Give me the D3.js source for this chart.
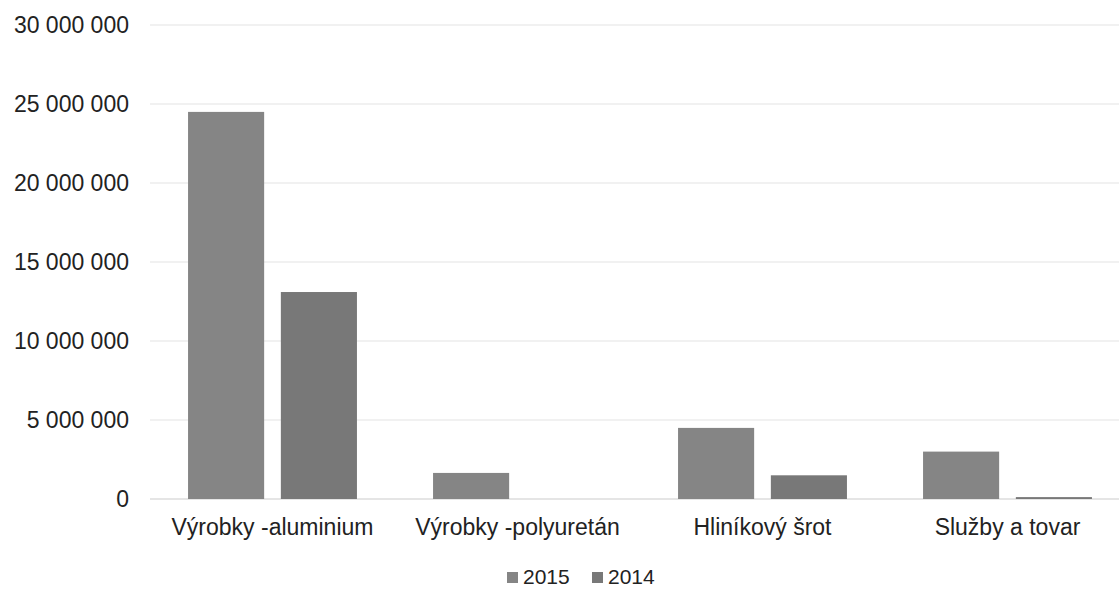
<!DOCTYPE html>
<html>
<head>
<meta charset="utf-8">
<script src="https://cdn.jsdelivr.net/npm/d3@7"></script>
<style>
  body { margin: 0; background: #fff; }
  svg { display: block; font-family: "Liberation Sans", Arial, sans-serif; }
</style>
</head>
<body>
<svg id="chart" width="1119" height="589"></svg>
<script>
const categories = ['Výrobky -aluminium', 'Výrobky -polyuretán', 'Hliníkový šrot', 'Služby a tovar'];
const years = ['2015', '2014'];
const values2015 = [24500000, 1650000, 4500000, 3000000];
const values2014 = [13100000, 0, 1500000, 120000];
const yTicks = [0, 5000000, 10000000, 15000000, 20000000, 25000000, 30000000];

const colors = {'2015': '#858585', '2014': '#787878'};

const svg = d3.select('#chart');
const margin = {left: 150, right: -11, top: 25, bottom: 90};
const width = 1119, height = 589;

const x = d3.scaleBand()
    .domain(categories)
    .range([margin.left, width - margin.right])
    .paddingInner(0)
    .paddingOuter(0);

const xInner = d3.scaleBand()
    .domain(years)
    .range([0, x.bandwidth()])
    .paddingInner(0.18)
    .paddingOuter(0.41);

const y = d3.scaleLinear()
    .domain([0, 30000000])
    .range([height - margin.bottom, margin.top]);

const fmt = v => d3.format(',')(v).replace(/,/g, ' ');

// grid
svg.append('g')
    .selectAll('line')
    .data(yTicks)
    .join('line')
    .attr('x1', margin.left)
    .attr('x2', width)
    .attr('y1', d => y(d))
    .attr('y2', d => y(d))
    .attr('stroke', d => d === 0 ? '#dcdcdc' : '#ececec')
    .attr('stroke-width', 1.5);

// y labels
svg.append('g')
    .selectAll('text')
    .data(yTicks)
    .join('text')
    .attr('x', 129)
    .attr('y', d => y(d))
    .attr('dy', '0.35em')
    .attr('text-anchor', 'end')
    .attr('font-size', 23)
    .attr('fill', '#222')
    .text(d => fmt(d));

// bars
const rows = categories.map((c, i) => ({cat: c, '2015': values2015[i], '2014': values2014[i]}));

const groups = svg.append('g')
    .selectAll('g')
    .data(rows)
    .join('g')
    .attr('transform', d => `translate(${x(d.cat)},0)`);

groups.selectAll('rect')
    .data(d => years.map(yr => ({yr, v: d[yr]})))
    .join('rect')
    .attr('x', d => xInner(d.yr))
    .attr('width', xInner.bandwidth())
    .attr('y', d => y(d.v))
    .attr('height', d => y(0) - y(d.v))
    .attr('fill', d => colors[d.yr]);

// category labels
svg.append('g')
    .selectAll('text')
    .data(categories)
    .join('text')
    .attr('x', d => x(d) + x.bandwidth() / 2)
    .attr('y', 535)
    .attr('text-anchor', 'middle')
    .attr('font-size', 23)
    .attr('fill', '#222')
    .text(d => d);

// legend
const legend = svg.append('g').attr('transform', 'translate(507,577)');
const items = legend.selectAll('g')
    .data(years)
    .join('g')
    .attr('transform', (d, i) => `translate(${i * 85},0)`);

items.append('rect')
    .attr('x', 0)
    .attr('y', -5)
    .attr('width', 11)
    .attr('height', 11)
    .attr('fill', d => colors[d]);

items.append('text')
    .attr('x', 16)
    .attr('y', 0)
    .attr('dy', '0.35em')
    .attr('font-size', 21)
    .attr('fill', '#222')
    .text(d => d);
</script>
</body>
</html>
